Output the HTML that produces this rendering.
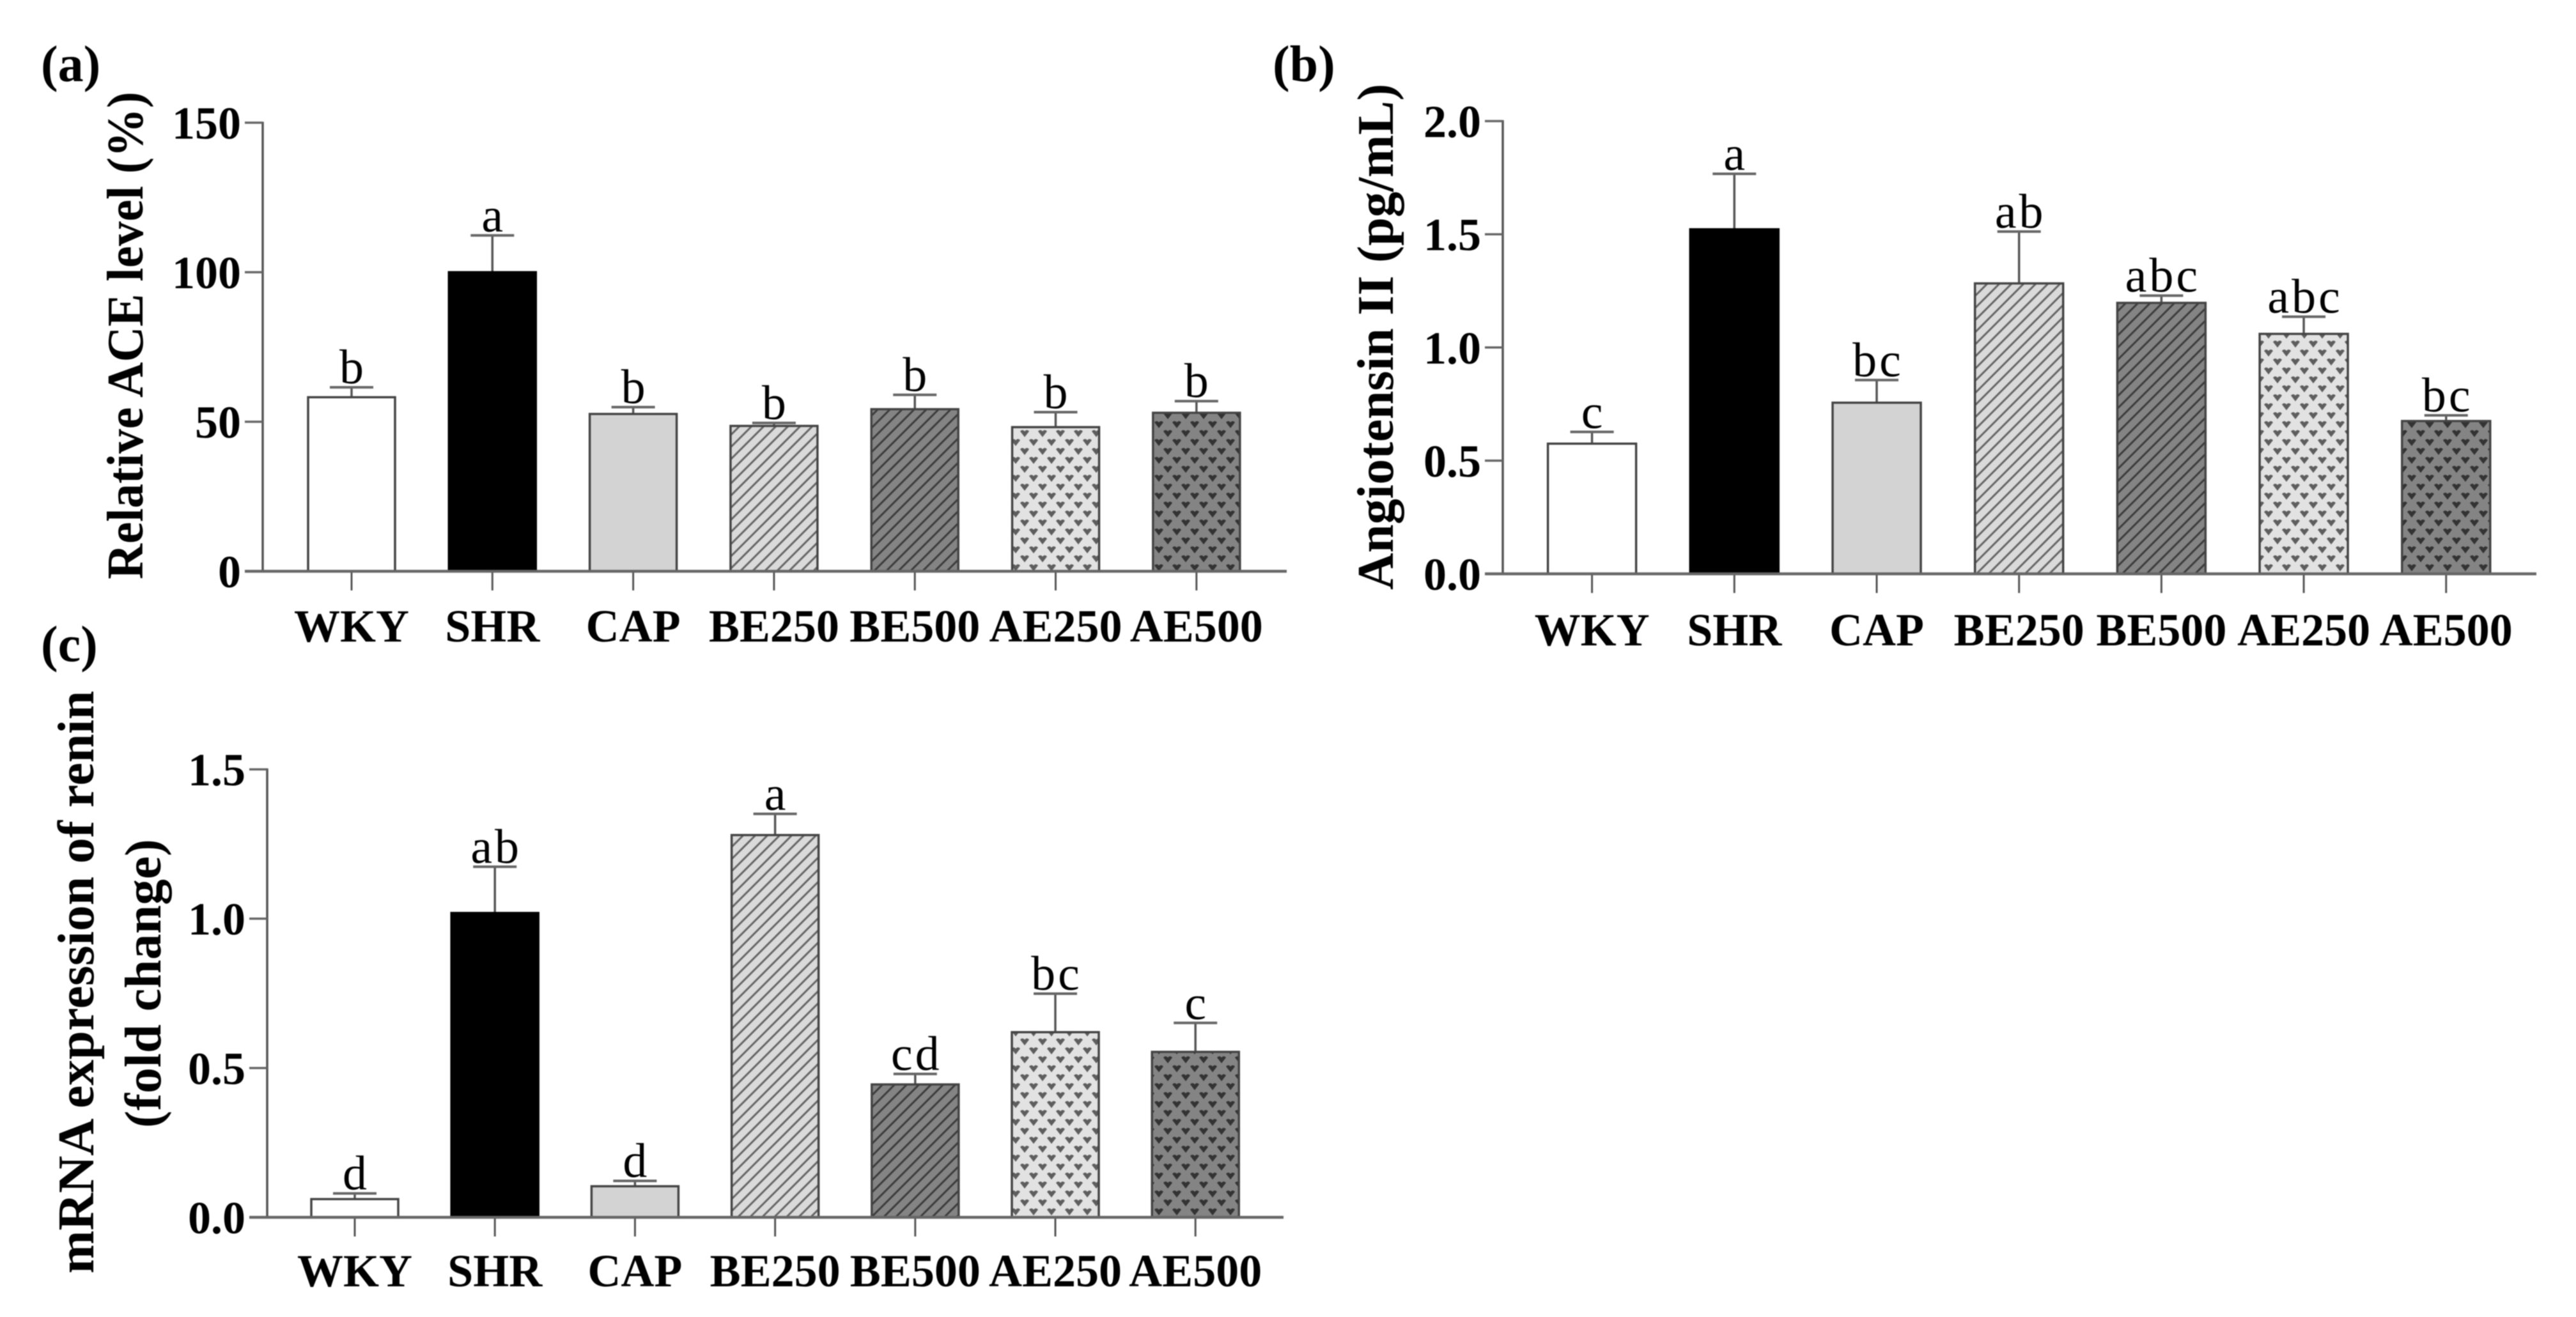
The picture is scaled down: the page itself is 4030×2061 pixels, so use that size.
<!DOCTYPE html>
<html lang="en">
<head>
<meta charset="utf-8">
<title>Relative ACE level, Angiotensin II and renin mRNA expression</title>
<style>
html,body{margin:0;padding:0;background:#fff;}
body{width:4030px;height:2061px;overflow:hidden;}
svg{display:block;filter:blur(0.7px);}
text{font-family:"Liberation Serif",serif;fill:#000;}
.tick{font-size:72px;font-weight:700;text-anchor:end;}
.cat{font-size:72px;font-weight:700;text-anchor:middle;}
.sig{font-size:76px;font-weight:400;text-anchor:middle;letter-spacing:4px;}
.ttl{font-size:80px;font-weight:700;text-anchor:middle;}
.panel{font-size:80px;font-weight:700;}
</style>
</head>
<body>
<svg id="figure" xmlns="http://www.w3.org/2000/svg" width="4030" height="2061" viewBox="0 0 4030 2061">
  <defs>
    <pattern id="hatch-light" patternUnits="userSpaceOnUse" width="19" height="19">
      <rect width="19" height="19" fill="#dadada"/>
      <path d="M-4.75,4.75L4.75,-4.75M0,19L19,0M14.25,23.75L23.75,14.25" stroke="#666" stroke-width="3"/>
    </pattern>
    <pattern id="hatch-dark" patternUnits="userSpaceOnUse" width="19" height="19">
      <rect width="19" height="19" fill="#848484"/>
      <path d="M-4.75,4.75L4.75,-4.75M0,19L19,0M14.25,23.75L23.75,14.25" stroke="#3c3c3c" stroke-width="3"/>
    </pattern>
    <pattern id="heart-light" patternUnits="userSpaceOnUse" width="28" height="28">
      <rect width="28" height="28" fill="#e2e2e2"/>
      <path d="M0,3 Q3.5,-1 7,3 Q10.5,-1 14,3 L7,12 Z" fill="#5e5e5e"/>
      <path d="M14,17 Q17.5,13 21,17 Q24.5,13 28,17 L21,26 Z" fill="#5e5e5e"/>
    </pattern>
    <pattern id="heart-dark" patternUnits="userSpaceOnUse" width="28" height="28">
      <rect width="28" height="28" fill="#848484"/>
      <path d="M0,3 Q3.5,-1 7,3 Q10.5,-1 14,3 L7,12 Z" fill="#333"/>
      <path d="M14,17 Q17.5,13 21,17 Q24.5,13 28,17 L21,26 Z" fill="#333"/>
    </pattern>
  </defs>
</svg>
<script>
const categories = ['WKY', 'SHR', 'CAP', 'BE250', 'BE500', 'AE250', 'AE500'];

const aceValues = [58.2, 100, 52.6, 48.6, 54.2, 48.2, 53];
const aceErrors = [3.3, 12.3, 2.3, 1, 4.8, 5, 3.9];
const aceLetters = ['b', 'a', 'b', 'b', 'b', 'b', 'b'];
const aceTicks = [0, 50, 100, 150];
const aceTickLabels = ['0', '50', '100', '150'];

const angValues = [0.575, 1.522, 0.756, 1.283, 1.197, 1.06, 0.675];
const angErrors = [0.052, 0.245, 0.1, 0.229, 0.032, 0.076, 0.025];
const angLetters = ['c', 'a', 'bc', 'ab', 'abc', 'abc', 'bc'];
const angTicks = [0, 0.5, 1, 1.5, 2];
const angTickLabels = ['0.0', '0.5', '1.0', '1.5', '2.0'];

const reninValues = [0.061, 1.019, 0.104, 1.28, 0.445, 0.62, 0.554];
const reninErrors = [0.019, 0.155, 0.018, 0.071, 0.035, 0.129, 0.097];
const reninLetters = ['d', 'ab', 'd', 'a', 'cd', 'bc', 'c'];
const reninTicks = [0, 0.5, 1, 1.5];
const reninTickLabels = ['0.0', '0.5', '1.0', '1.5'];

const barFills = ['#ffffff', '#000000', '#d3d3d3', 'url(#hatch-light)', 'url(#hatch-dark)', 'url(#heart-light)', 'url(#heart-dark)'];

const svg = document.getElementById('figure');
const NS = 'http://www.w3.org/2000/svg';

function make(tag, parent, name, props) {
  const el = document.createElementNS(NS, tag);
  
  
  for (const k in props) el.setAttribute(k, props[k]);
  parent.appendChild(el);
  return el;
}

function label(parent, name, cls, x, y, str, extra) {
  const t = make('text', parent, name, Object.assign({ 'class': cls, x: x, y: y }, extra || {}));
  t.textContent = str;
  return t;
}

function line(parent, name, x1, y1, x2, y2, w, color) {
  return make('line', parent, name, { x1: x1, y1: y1, x2: x2, y2: y2, stroke: color, 'stroke-width': w });
}

function drawPanel(p) {
  const g = make('g', svg, 'chart-' + p.id, {});
  const yScale = v => p.y0 - (v / p.yMax) * (p.y0 - p.yTop);
  const xScale = i => p.x0 + i * p.step;

  p.values.forEach((v, i) => {
    const cx = xScale(i);
    const top = yScale(v);
    const errTop = yScale(v + p.errors[i]);
    line(g, 'error-stem-' + categories[i].toLowerCase(), cx, top, cx, errTop, 3.5, '#555');
    line(g, 'error-cap-' + categories[i].toLowerCase(), cx - 34, errTop, cx + 34, errTop, 4, '#666');
    make('rect', g, 'bar-' + categories[i].toLowerCase(), {
      x: cx - p.barW / 2, y: top, width: p.barW, height: p.y0 - top,
      fill: barFills[i], stroke: i === 1 ? '#000' : '#444', 'stroke-width': 3.5
    });
    label(g, 'significance-letter-' + categories[i].toLowerCase(), 'sig', cx + 2, errTop - 6, p.letters[i]);
    line(g, 'x-tick-' + categories[i].toLowerCase(), cx, p.y0, cx, p.y0 + 30, 3, '#555');
    label(g, 'x-label-' + categories[i].toLowerCase(), 'cat', cx, p.catY, categories[i]);
  });

  line(g, 'y-axis', p.axisX, p.yTop - 1.5, p.axisX, p.y0, 3.5, '#555');
  line(g, 'x-axis', p.axisX - 28, p.y0, p.axisEnd, p.y0, 4.5, '#666');

  p.ticks.forEach((t, i) => {
    const y = yScale(t);
    if (t !== 0) line(g, 'y-tick-' + p.tickLabels[i], p.axisX - 28, y, p.axisX, y, 3.5, '#666');
    label(g, 'y-tick-label-' + p.tickLabels[i], 'tick', p.axisX - 34, y + 25, p.tickLabels[i]);
  });

  p.titles.forEach((t, i) => {
    label(g, 'y-axis-title' + (p.titles.length > 1 ? '-line-' + (i + 1) : ''), 'ttl', 0, 0, t.text, {
      transform: 'translate(' + t.x + ',' + t.y + ') rotate(-90)',
      textLength: t.len, lengthAdjust: 'spacingAndGlyphs'
    });
  });

  label(g, 'panel-label-' + p.id, 'panel', p.tagX, p.tagY, '(' + p.id + ')');
}

drawPanel({
  id: 'a', values: aceValues, errors: aceErrors, letters: aceLetters, ticks: aceTicks, tickLabels: aceTickLabels,
  yMax: 150, y0: 894, yTop: 192, x0: 550, step: 220.3, barW: 136, axisX: 411, axisEnd: 2013, catY: 1004,
  titles: [{ text: 'Relative ACE level (%)', x: 223, y: 525, len: 763 }], tagX: 64, tagY: 127
});

drawPanel({
  id: 'b', values: angValues, errors: angErrors, letters: angLetters, ticks: angTicks, tickLabels: angTickLabels,
  yMax: 2, y0: 898, yTop: 189.5, x0: 2490.6, step: 222.7, barW: 138, axisX: 2351, axisEnd: 3968, catY: 1010,
  titles: [{ text: 'Angiotensin II (pg/mL)', x: 2179, y: 527, len: 792 }], tagX: 1991, tagY: 127
});

drawPanel({
  id: 'c', values: reninValues, errors: reninErrors, letters: reninLetters, ticks: reninTicks, tickLabels: reninTickLabels,
  yMax: 1.5, y0: 1905, yTop: 1204, x0: 555, step: 219.2, barW: 136, axisX: 418, axisEnd: 2008, catY: 2013,
  titles: [
    { text: 'mRNA expression of renin', x: 146, y: 1537, len: 912 },
    { text: '(fold change)', x: 251, y: 1539, len: 452 }
  ], tagX: 64, tagY: 1035
});
</script>
</body>
</html>
